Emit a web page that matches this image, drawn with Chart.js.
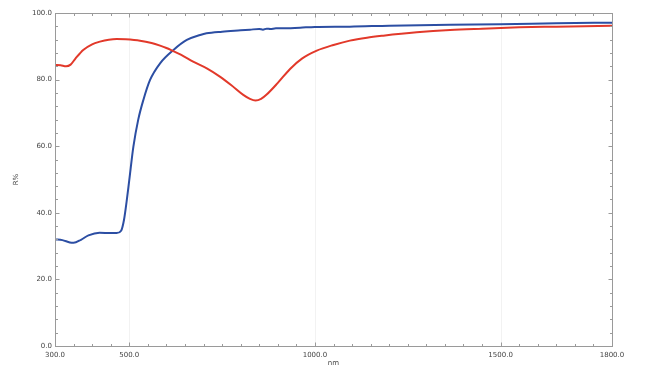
<!DOCTYPE html>
<html>
<head>
<meta charset="utf-8">
<script src="https://cdn.jsdelivr.net/npm/chart.js@4.4.1/dist/chart.umd.min.js"></script>
<style>
  html, body { margin: 0; padding: 0; background: #ffffff; }
  #wrap { width: 657px; height: 375px; position: relative; }
</style>
</head>
<body>
<div id="wrap"><canvas id="c" width="657" height="375"></canvas></div>
<script>
// ---- data ----
const blueNm = [300, 320, 340, 350, 370, 390, 420, 450, 466, 478, 486, 493, 500, 511, 524, 538, 556, 583, 619, 655, 691, 708, 750, 800, 825, 850, 860, 870, 880, 895, 910, 960, 1000, 1094, 1200, 1364, 1500, 1650, 1800];
const blueR  = [32.0, 31.8, 31.1, 31.0, 31.9, 33.2, 34.0, 33.9, 33.9, 34.6, 38.0, 43.5, 49.8, 59.8, 67.9, 73.9, 79.9, 84.9, 88.9, 91.9, 93.4, 93.9, 94.4, 94.8, 95.0, 95.2, 95.0, 95.3, 95.2, 95.4, 95.4, 95.6, 95.8, 95.9, 96.2, 96.5, 96.6, 96.9, 97.1];

const redNm = [300, 315, 330, 342, 355, 376, 400, 421, 445, 466, 490, 529, 560, 583, 600, 614, 640, 672, 710, 744, 775, 807, 825, 840, 855, 870, 900, 933, 965, 1005, 1050, 1094, 1140, 1184, 1274, 1364, 1450, 1550, 1650, 1800];
const redR  = [84.4, 84.3, 84.0, 84.5, 86.3, 88.9, 90.6, 91.4, 92.0, 92.2, 92.1, 91.7, 91.0, 90.2, 89.5, 88.8, 87.4, 85.4, 83.3, 80.9, 78.3, 75.4, 74.2, 73.7, 74.2, 75.5, 79.0, 83.2, 86.3, 88.7, 90.4, 91.7, 92.6, 93.2, 94.2, 94.9, 95.3, 95.7, 95.9, 96.2];

const xTickLabels = [300, 500, 1000, 1500, 1800];
const xMinorStep = 50;
const yTickLabels = [0, 20, 40, 60, 80, 100];
const yMinorStep = 4;

const xMin = 300, xMax = 1800, yMin = 0, yMax = 100;

function pts(xs, ys) { return xs.map((x, i) => ({ x: x, y: ys[i] })); }

const xTickValues = [];
for (let v = xMin; v <= xMax; v += xMinorStep) xTickValues.push(v);
if (!xTickValues.includes(xMax)) xTickValues.push(xMax);
const yTickValues = [];
for (let v = yMin; v <= yMax; v += yMinorStep) yTickValues.push(v);

const FONT = 'DejaVu Sans';

const frame = {
  id: 'frame',
  beforeDatasetsDraw(chart) {
    const { ctx, chartArea: a, scales: { x } } = chart;
    ctx.save();
    ctx.strokeStyle = '#f2f2f2';
    ctx.lineWidth = 1;
    xTickLabels.forEach(v => {
      if (v === xMin || v === xMax) return;
      const px = Math.round(x.getPixelForValue(v)) + 0.5;
      ctx.beginPath(); ctx.moveTo(px, a.top); ctx.lineTo(px, a.bottom); ctx.stroke();
    });
    ctx.restore();
  },
  afterDraw(chart) {
    const { ctx, chartArea: a, scales: { x, y } } = chart;
    ctx.save();
    ctx.strokeStyle = '#9a9a9a';
    ctx.lineWidth = 1;
    const L = Math.round(a.left) + 0.5, R = Math.round(a.right) + 0.5;
    const T = Math.round(a.top) + 0.5, B = Math.round(a.bottom) + 0.5;
    ctx.strokeRect(L, T, R - L, B - T);
    ctx.beginPath();
    xTickValues.forEach(v => {
      const px = Math.round(x.getPixelForValue(v)) + 0.5;
      const len = xTickLabels.includes(v) ? 4 : 2.5;
      ctx.moveTo(px, B); ctx.lineTo(px, B - len);
      ctx.moveTo(px, T); ctx.lineTo(px, T + len);
    });
    yTickValues.forEach(v => {
      const py = Math.round(y.getPixelForValue(v)) + 0.5;
      const len = yTickLabels.includes(v) ? 4 : 2.5;
      ctx.moveTo(L, py); ctx.lineTo(L + len, py);
      ctx.moveTo(R, py); ctx.lineTo(R - len, py);
    });
    ctx.stroke();
    ctx.restore();
  }
};

new Chart(document.getElementById('c'), {
  type: 'line',
  data: {
    datasets: [
      {
        label: 'red',
        data: pts(redNm, redR),
        borderColor: '#e2392a',
        borderWidth: 2,
        pointRadius: 0,
        cubicInterpolationMode: 'monotone',
        fill: false
      },
      {
        label: 'blue',
        data: pts(blueNm, blueR),
        borderColor: '#2c4ea3',
        borderWidth: 2,
        pointRadius: 0,
        cubicInterpolationMode: 'monotone',
        fill: false
      }
    ]
  },
  options: {
    responsive: false,
    animation: false,
    events: [],
    layout: { padding: { left: 0, right: 45, top: 13, bottom: 0 } },
    plugins: { legend: { display: false }, tooltip: { enabled: false } },
    scales: {
      x: {
        type: 'linear',
        min: xMin, max: xMax,
        afterBuildTicks: s => { s.ticks = xTickValues.map(v => ({ value: v })); },
        afterFit: s => { s.height = 29; },
        grid: { display: false, drawTicks: false },
        border: { display: false },
        ticks: {
          autoSkip: false, maxRotation: 0, minRotation: 0,
          padding: 5,
          color: '#444444',
          font: { family: FONT, size: 7 },
          callback: v => xTickLabels.includes(v) ? v.toFixed(1) : ''
        },
        title: {
          display: true, text: 'nm', color: '#444444',
          font: { family: FONT, size: 7 },
          padding: { top: 0, bottom: 8 }
        }
      },
      y: {
        type: 'linear',
        min: yMin, max: yMax,
        afterBuildTicks: s => { s.ticks = yTickValues.map(v => ({ value: v })); },
        afterFit: s => { s.width = 55; },
        grid: { display: false, drawTicks: false },
        border: { display: false },
        ticks: {
          autoSkip: false,
          padding: 3,
          color: '#444444',
          font: { family: FONT, size: 7 },
          callback: v => yTickLabels.includes(v) ? v.toFixed(1) : ''
        },
        title: {
          display: true, text: 'R%', color: '#444444',
          font: { family: FONT, size: 7 },
          padding: { top: 12, bottom: 0 }
        }
      }
    }
  },
  plugins: [frame]
});
</script>
</body>
</html>
